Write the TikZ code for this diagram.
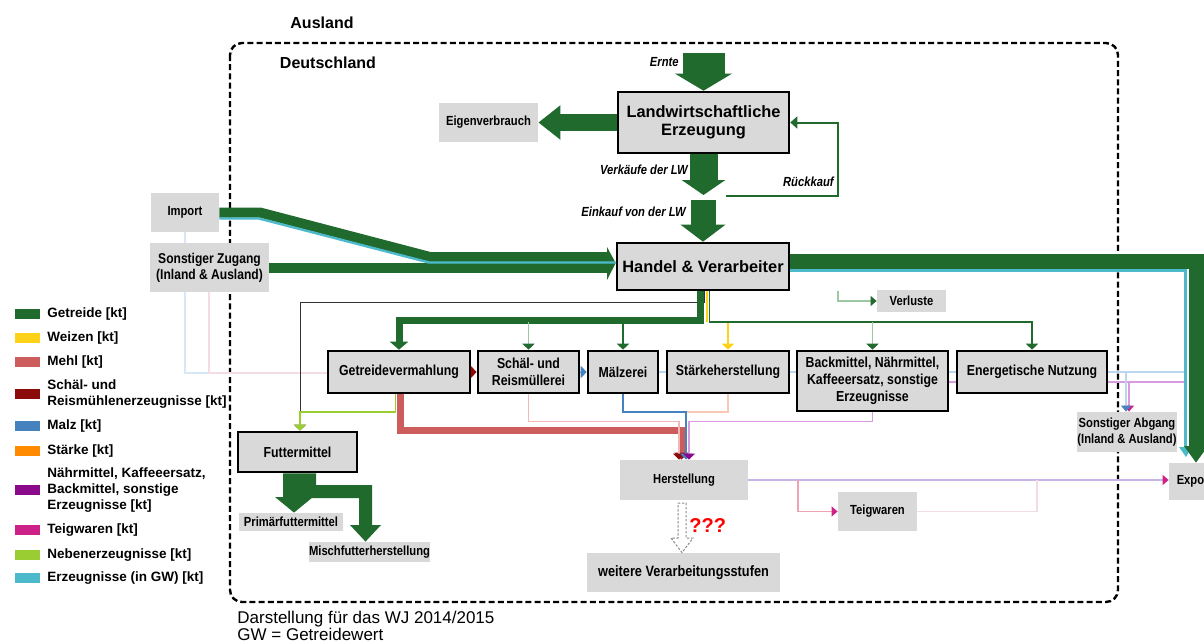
\documentclass[tikz,border=0pt]{standalone}
\usepackage{fontspec}
\setmainfont{Liberation Sans}
\newfontfamily\narrowsf[FakeStretch=0.85]{Liberation Sans}
\usetikzlibrary{arrows.meta,backgrounds}

% flow colours
\definecolor{cgetreide}{HTML}{216A2E}
\definecolor{cweizen}{HTML}{FFD21A}
\definecolor{cmehl}{HTML}{CD5C5C}
\definecolor{cschael}{HTML}{8B0A0A}
\definecolor{cmalz}{HTML}{4682BE}
\definecolor{cstaerke}{HTML}{FF8A00}
\definecolor{cnaehr}{HTML}{8B0A8B}
\definecolor{cteig}{HTML}{CC2288}
\definecolor{cneben}{HTML}{9ACD32}
\definecolor{cerz}{HTML}{4CBACB}
\definecolor{boxgray}{HTML}{D9D9D9}
% pale variants for thin flows
\definecolor{palegreen}{HTML}{9CC9A4}
\definecolor{palepink}{HTML}{F2B8B8}
\definecolor{palesalmon}{HTML}{F9C7B5}
\definecolor{paleviolet}{HTML}{D89BE0}
\definecolor{paleblue}{HTML}{B9D6EE}
\definecolor{lavender}{HTML}{C7B5E8}
\definecolor{paleteig}{HTML}{EFA3B5}
\definecolor{faintpink}{HTML}{F3DDE2}
\definecolor{faintblue}{HTML}{D7E7F5}

% box from its corner pixels: style, name, x1, y1, x2, y2, text
\newcommand\boxnode[7]{%
  \node[#1, minimum width={(#5-#3)*0.5pt}, minimum height={(#6-#4)*0.5pt}]
    (#2) at ({(#3+#5)/2},{(#4+#6)/2}) {#7};}

\tikzset{
  procbox/.style={draw=black, line width=1.3pt, fill=boxgray, align=center, inner sep=0pt,
    font={\narrowsf\bfseries\fontsize{7.25pt}{8.4pt}\selectfont}},
  bigbox/.style={procbox, font={\bfseries\fontsize{8.2pt}{9.2pt}\selectfont}},
  tagbox/.style={fill=boxgray, align=center, inner sep=0pt,
    font={\narrowsf\bfseries\fontsize{6.6pt}{8pt}\selectfont}},
  flowlabel/.style={inner sep=0pt, anchor=east,
    font={\narrowsf\bfseries\itshape\fontsize{6.6pt}{8pt}\selectfont}},
  legtext/.style={inner sep=0pt, anchor=west, align=left,
    font={\bfseries\fontsize{6.75pt}{7.8pt}\selectfont}},
  headline/.style={inner sep=0pt, font={\bfseries\fontsize{8pt}{9pt}\selectfont}},
  ahead/.style={-{Triangle[length=3pt,width=5pt]}},
  aheadc/.style={-{Triangle[length=3pt,width=5pt,color=#1]}},
  fineline/.style={line width=0.6pt},
}

\begin{document}
\begin{tikzpicture}[x=0.5pt,y=-0.5pt]
\useasboundingbox (0,0) rectangle (1204,643);

% ---------- headings ----------
\node[headline] (ausland) at (322,23) {Ausland};
\node[headline] (de) at (328,63) {Deutschland};

% ---------- process boxes ----------
\boxnode{bigbox}{landw}{618}{92}{789}{153}{Landwirtschaftliche\\Erzeugung}
\boxnode{bigbox}{handel}{617}{243}{789}{290}{Handel \& Verarbeiter}
\boxnode{procbox}{gv}{328}{351}{470}{393}{Getreidevermahlung}
\boxnode{procbox}{sr}{478}{351}{579}{393}{Schäl- und\\Reismüllerei}
\boxnode{procbox}{mz}{588}{351}{658}{393}{Mälzerei}
\boxnode{procbox}{st}{667}{351}{789}{393}{Stärkeherstellung}
\boxnode{procbox}{bm}{797}{351}{948}{411}{Backmittel, Nährmittel,\\Kaffeeersatz, sonstige\\Erzeugnisse}
\boxnode{procbox}{en}{957}{351}{1107}{393}{Energetische Nutzung}
\boxnode{procbox}{fm}{238}{432}{357}{472}{Futtermittel}

% ---------- sources and sinks ----------
\boxnode{tagbox}{eig}{439}{103}{538}{142}{Eigenverbrauch}
\boxnode{tagbox}{imp}{151}{193}{219}{232}{Import}
\boxnode{tagbox, font={\narrowsf\bfseries\fontsize{7.1pt}{8pt}\selectfont}}{sz}{150}{243}{269}{292}{Sonstiger Zugang\\(Inland \& Ausland)}
\boxnode{tagbox}{verl}{877}{290}{946}{312}{Verluste}
\boxnode{tagbox}{hst}{620}{460}{748}{500}{Herstellung}
\boxnode{tagbox, font={\narrowsf\bfseries\fontsize{7.5pt}{8pt}\selectfont}}{wv}{587}{553}{780}{592}{weitere Verarbeitungsstufen}
\boxnode{tagbox}{teig}{838}{492}{917}{531}{Teigwaren}
\boxnode{tagbox}{exp}{1169}{463}{1220}{500}{Export}
\boxnode{tagbox}{sa}{1077}{412}{1177}{452}{Sonstiger Abgang\\(Inland \& Ausland)}
\boxnode{tagbox}{pf}{239}{513}{343}{531}{Primärfuttermittel}
\boxnode{tagbox}{mf}{309}{542}{430}{562}{Mischfutterherstellung}

% ---------- background: frame and hidden flows ----------
\begin{scope}[on background layer]
  \fill[white] (0,0) rectangle (1204,643);
  \draw[black, line width=1.2pt, dash pattern=on 3pt off 1.6pt, rounded corners=6pt]
    (230,43) rectangle (1118,602);
  \draw[faintblue, fineline] (imp.south) -- (185,373) -- (209,373);
  \draw[faintpink, fineline] (209,0 |- sz.south) -- (209,373) -- (gv.west |- 0,373);
  \draw[paleviolet, fineline] (bm.east |- 0,382) -- (1184,382);
  \draw[paleviolet, fineline, aheadc=cteig] (1129,382) -- (1129,0 |- sa.north);
\end{scope}

% ---------- agriculture ----------
\coordinate (ernte) at (703.5,53);
\draw[cgetreide, line width=21pt, -{Triangle[length=8.5pt,width=28pt]}] (ernte) -- (landw.north);
\node[flowlabel] (ernteL) at (679,62) {Ernte};
\draw[cgetreide, line width=8.5pt, -{Triangle[length=11pt,width=16.5pt]}] (landw.west) -- (eig.east);
\coordinate (vk) at (703.5,195);
\draw[cgetreide, line width=14pt, -{Triangle[length=7.5pt,width=21.5pt]}] (landw.south) -- (vk);
\node[flowlabel] (vkL) at (688,170) {Verkäufe der LW};
\coordinate (ek) at (703,200);
\draw[cgetreide, line width=12.5pt, -{Triangle[length=8.5pt,width=22pt]}] (ek) -- (handel.north);
\node[flowlabel] (ekL) at (686,212) {Einkauf von der LW};
\coordinate (rk) at (726,196);
\draw[cgetreide, line width=1pt, line join=miter, -{Triangle[length=3.5pt,width=6pt]}]
  (rk) -- (838,196) -- (838,122.5) -- (landw.east);
\node[flowlabel] (rkL) at (834,182) {Rückkauf};

% ---------- inflows ----------
\draw[cgetreide, line width=5pt, line join=miter]
  (imp.east) -- (260,212.5) -- (430,257) -- (608,257);
\draw[cgetreide, line width=5pt] (sz.east) -- (608,0 |- sz.east);
\fill[cgetreide] (607,247) -- (handel.west |- 0,263) -- (607,280) -- cycle;
\draw[cerz, line width=1.2pt, line join=miter]
  (imp.east |- 0,218.5) -- (259,218.5) -- (429,262.5) -- (handel.west |- 0,262.5);

% ---------- export band ----------
\draw[cgetreide, line width=7.5pt, line join=miter]
  (handel.east |- 0,261) -- (1196,261) -- (1196,448);
\draw[cerz, line width=1.2pt, line join=miter]
  (handel.east |- 0,270.5) -- (1185.5,270.5) -- (1185.5,449);
\fill[cerz] (1179,447) -- (1192,447) -- (1186,457) -- cycle;
\fill[cgetreide] (1184,446) -- (1208,446) -- (1196,0 |- exp.north) -- cycle;

% ---------- distribution from Handel ----------
\draw[palegreen, fineline, aheadc=cgetreide]
  (838,0 |- handel.south) -- (838,0 |- verl.west) -- (verl.west);
\draw[black!80, line width=0.5pt, -{Triangle[length=3pt,width=6pt,color=black!60]}]
  (704.5,0 |- handel.south) -- (704.5,302) -- (300,302) -- (300,0 |- fm.north);
\draw[cgetreide, line width=3.5pt, line join=miter, -{Triangle[length=4pt,width=9pt]}]
  (700,0 |- handel.south) -- (700,320.5) -- (gv.north |- 0,320.5) -- (gv.north);
\draw[cweizen, line width=0.8pt] (707,0 |- handel.south) -- (707,322);
\draw[cweizen, line width=0.8pt, -{Triangle[length=3pt,width=6pt]}] (st.north |- 0,322) -- (st.north);
\draw[cgetreide, fineline, -{Triangle[length=3pt,width=6pt]}]
  (709.5,0 |- handel.south) -- (709.5,322) -- (en.north |- 0,322) -- (en.north);
\draw[palegreen, fineline, -{Triangle[length=3pt,width=6pt,color=cgetreide]}] (bm.north |- 0,322) -- (bm.north);
\draw[palegreen, fineline, -{Triangle[length=3pt,width=6pt,color=cgetreide]}] (sr.north |- 0,322) -- (sr.north);
\draw[cgetreide, fineline, -{Triangle[length=3pt,width=6pt]}] (mz.north |- 0,322) -- (mz.north);

% ---------- links along the process row ----------
\draw[cschael, line width=0.5pt, -{Triangle[length=3pt,width=6pt]}] (gv.east) -- (sr.west);
\draw[cmalz, line width=0.5pt, -{Triangle[length=3pt,width=6pt]}] (sr.east) -- (mz.west);
\draw[paleblue, fineline] (mz.east) -- (st.west);
\draw[paleblue, fineline] (st.east) -- (st.east -| bm.west);
\draw[paleblue, fineline] (bm.east |- en.west) -- (en.west);
\draw[paleblue, fineline] (en.east) -- (1184,0 |- en.east);
\draw[paleblue, fineline, aheadc=cmalz] (1126,0 |- en.east) -- (1126,0 |- sa.north);

% ---------- flows to Herstellung ----------
\draw[cmehl, line width=3.5pt, line join=miter, -{Triangle[length=3.5pt,width=7pt,color=cschael!80!cmehl]}]
  (400,0 |- gv.south) -- (400,430.5) -- (681.5,430.5) -- (681.5,0 |- hst.north);
\draw[palepink, fineline, -{Triangle[length=3pt,width=6pt,color=cschael]}]
  (sr.south) -- (sr.south |- 0,421.5) -- (679,421.5) -- (679,0 |- hst.north);
\draw[palesalmon, fineline] (st.south) -- (st.south |- 0,412) -- (686,412);
\draw[cmalz, fineline, -{Triangle[length=3pt,width=6pt]}]
  (mz.south) -- (mz.south |- 0,412) -- (686,412) -- (686,0 |- hst.north);
\draw[paleviolet, fineline, -{Triangle[length=3pt,width=6pt,color=cnaehr]}]
  (bm.south) -- (bm.south |- 0,421.5) -- (689,421.5) -- (689,0 |- hst.north);
\draw[cneben, line width=0.7pt, -{Triangle[length=3pt,width=6pt]}]
  (395.5,0 |- gv.south) -- (395.5,412) -- (300,412) -- (300,0 |- fm.north);

% ---------- onward flows ----------
\draw[lavender, line width=0.8pt, aheadc=cteig] (hst.east) -- (hst.east -| exp.west);
\draw[paleteig, fineline, aheadc=cteig]
  (798,0 |- hst.east) -- (798,0 |- teig.west) -- (teig.west);
\draw[faintpink, fineline] (teig.east) -- (1037,0 |- teig.east) -- (1037,0 |- hst.east);
\draw[black!45, line width=0.5pt, dash pattern=on 1.2pt off 0.8pt, fill=white]
  (678,503) -- (686,503) -- (686,538) -- (693,538) -- (682,0 |- wv.north)
  -- (671,538) -- (678,538) -- cycle;
\node[inner sep=0pt, anchor=west, text=red, font={\bfseries\fontsize{10pt}{10pt}\selectfont}]
  (qq) at (689,526) {???};

% ---------- feed split ----------
\fill[cgetreide] (283,0 |- fm.south) -- (316,0 |- fm.south) -- (316,485) -- (305,485)
  -- (305,497) -- (313,497) -- (294,0 |- pf.north) -- (275,497) -- (283,497) -- cycle;
\fill[cgetreide] (305,485) -- (372,485) -- (372,525) -- (381,525) -- (365.5,0 |- mf.north)
  -- (350,525) -- (359,525) -- (359,498) -- (305,498) -- cycle;

% ---------- legend ----------
\fill[cgetreide] (15,309) rectangle (40,319);
\node[legtext] (lg1) at (47,314) {Getreide [kt]};
\fill[cweizen] (15,333) rectangle (40,343);
\node[legtext] (lg2) at (47,338) {Weizen [kt]};
\fill[cmehl] (15,357) rectangle (40,367);
\node[legtext] (lg3) at (47,362) {Mehl [kt]};
\fill[cschael] (15,389) rectangle (40,399);
\node[legtext] (lg4) at (47,394) {Schäl- und\\Reismühlenerzeugnisse [kt]};
\fill[cmalz] (15,421) rectangle (40,431);
\node[legtext] (lg5) at (47,426) {Malz [kt]};
\fill[cstaerke] (15,446) rectangle (40,456);
\node[legtext] (lg6) at (47,451) {Stärke [kt]};
\fill[cnaehr] (15,485) rectangle (40,495);
\node[legtext] (lg7) at (47,490) {Nährmittel, Kaffeeersatz,\\Backmittel, sonstige\\Erzeugnisse [kt]};
\fill[cteig] (15,525) rectangle (40,535);
\node[legtext] (lg8) at (47,530) {Teigwaren [kt]};
\fill[cneben] (15,550) rectangle (40,560);
\node[legtext] (lg9) at (47,555) {Nebenerzeugnisse [kt]};
\fill[cerz] (15,573) rectangle (40,583);
\node[legtext] (lg10) at (47,578) {Erzeugnisse (in GW) [kt]};

% ---------- note ----------
\node[inner sep=0pt, anchor=west, align=left, font={\fontsize{8.5pt}{8.6pt}\selectfont}]
  (note) at (237,626) {Darstellung für das WJ 2014/2015\\GW = Getreidewert};
\end{tikzpicture}
\end{document}
